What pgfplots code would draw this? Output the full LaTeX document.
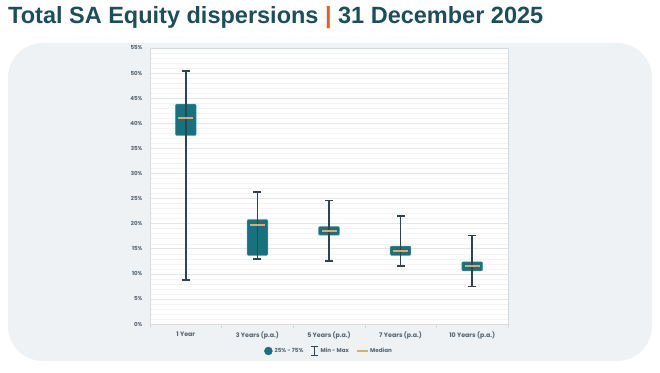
\documentclass[border=0pt]{standalone}
\usepackage{fontspec}
\setmainfont{Poppins}
\newfontfamily\titlefont{Liberation Sans}
\newfontfamily\tickfont{Poppins}
\usepackage{pgfplots}
\pgfplotsset{compat=1.18}
\definecolor{panel}{HTML}{EEF2F5}
\definecolor{titlec}{HTML}{1D4F5A}
\definecolor{orangec}{HTML}{E0602A}
\definecolor{boxc}{HTML}{17717F}
\definecolor{boxedge}{HTML}{4A9CA7}
\definecolor{whisk}{HTML}{2F4450}
\definecolor{medc}{HTML}{E6A85E}
\definecolor{gridmaj}{HTML}{E3E6E9}
\definecolor{gridmin}{HTML}{F1F3F5}
\definecolor{borderc}{HTML}{D6DBE0}
\definecolor{labc}{HTML}{56636E}
\pgfplotsset{
  boxq/.style={forget plot, fill=boxc, draw=boxedge, line width=0.5bp, rounded corners=1bp},
  whiskq/.style={forget plot, whisk, line width=1.6bp, mark=-, mark size=4bp, mark options={solid, whisk, line width=1.6bp}},
}
\begin{document}
\begin{tikzpicture}[x=1bp,y=1bp]
\fill[white] (0,0) rectangle (660,372);
\fill[panel, rounded corners=35bp] (8,11) rectangle (652,329);
\node[anchor=base west, inner sep=0, text=titlec, font=\titlefont\bfseries\fontsize{23.5bp}{28bp}\selectfont] at (8,348.7) {Total SA Equity dispersions {\color{orangec}|} 31 December 2025};
\begin{axis}[
  at={(150bp,48bp)}, anchor=south west, scale only axis,
  width=358bp, height=276bp,
  xmin=-0.5, xmax=4.5, ymin=0, ymax=55,
  axis background/.style={fill=white},
  axis line style={draw=borderc, line width=0.6bp},
  /pgf/number format/assume math mode=true,
  ytick={0,5,...,55},
  yticklabel={\pgfmathprintnumber{\tick}\%},
  yticklabel style={font=\tickfont\bfseries\fontsize{5.5bp}{6bp}\selectfont, text=labc},
  ytick style={draw=none},
  minor y tick num=4, minor tick length=0pt,
  ymajorgrids, yminorgrids,
  major grid style={draw=gridmaj, line width=0.5bp},
  minor grid style={draw=gridmin, line width=0.4bp},
  xtick pos=bottom, ytick pos=left,
  xtick={-0.5,0.5,1.5,2.5,3.5,4.5}, xticklabels={},
  xtick style={draw=borderc, line width=0.6bp},
  major tick length=4bp, tick align=outside,
  extra x ticks={0,1,2,3,4},
  extra x tick labels={1 Year,3 Years (p.a.),5 Years (p.a.),7 Years (p.a.),10 Years (p.a.)},
  extra x tick style={major tick length=0pt},
  xticklabel style={font=\tickfont\bfseries\fontsize{6.3bp}{7bp}\selectfont, text=labc, yshift=-4bp},
  legend columns=3,
  legend style={at={(0.5,-0.0978)}, anchor=center, draw=none, fill=none,
    font=\tickfont\bfseries\fontsize{5.6bp}{6.5bp}\selectfont, text=labc,
    /tikz/every even column/.append style={column sep=5bp}},
]
% boxes (25% - 75%)
\addplot[boxq] coordinates {(-0.145,37.6) (0.145,37.6) (0.145,43.8) (-0.145,43.8)} -- cycle;
\addplot[boxq] coordinates {(0.855,13.7) (1.145,13.7) (1.145,20.8) (0.855,20.8)} -- cycle;
\addplot[boxq] coordinates {(1.855,17.7) (2.145,17.7) (2.145,19.4) (1.855,19.4)} -- cycle;
\addplot[boxq] coordinates {(2.855,13.7) (3.145,13.7) (3.145,15.5) (2.855,15.5)} -- cycle;
\addplot[boxq] coordinates {(3.855,10.6) (4.145,10.6) (4.145,12.4) (3.855,12.4)} -- cycle;
% min - max whiskers
\addplot[whiskq] coordinates {(0,8.8) (0,50.4)};
\addplot[whiskq] coordinates {(1,13.0) (1,26.3)};
\addplot[whiskq] coordinates {(2,12.6) (2,24.6)};
\addplot[whiskq] coordinates {(3,11.6) (3,21.5)};
\addplot[whiskq] coordinates {(4,7.5) (4,17.6)};
% medians
\addplot[forget plot, only marks, mark=-, mark size=7.5bp, mark options={medc, line width=1.8bp}] coordinates {(0,41.1) (1,19.8) (2,18.6) (3,14.6) (4,11.6)};
% legend
\addlegendimage{legend image code/.code={\fill[boxc] (2bp,0) circle (4bp);}}
\addlegendentry{25\% - 75\%}
\addlegendimage{legend image code/.code={\draw[whisk, line width=1.1bp] (2bp,-4.5bp)--(2bp,4.5bp) (-1.5bp,-4.5bp)--(5.5bp,-4.5bp) (-1.5bp,4.5bp)--(5.5bp,4.5bp);}}
\addlegendentry{Min - Max}
\addlegendimage{legend image code/.code={\draw[medc, line width=1.3bp] (0,0)--(11bp,0);}}
\addlegendentry{Median}
\end{axis}
\end{tikzpicture}
\end{document}
